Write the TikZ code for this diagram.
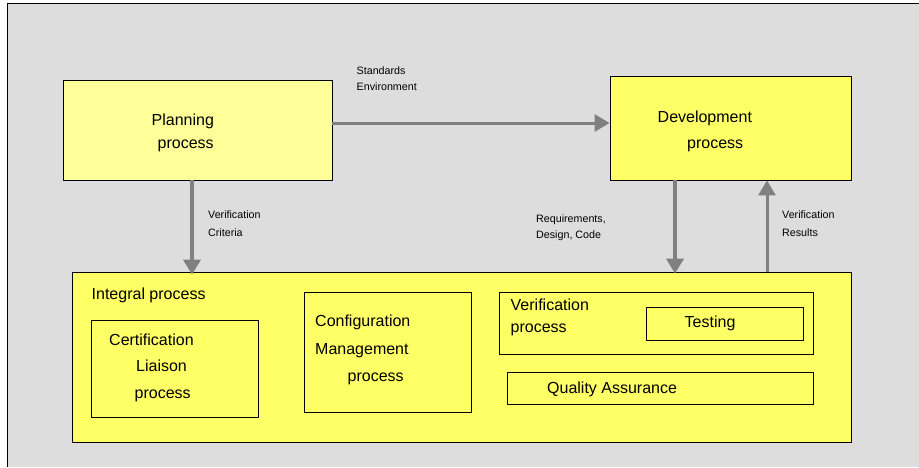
\documentclass[tikz,border=0pt]{standalone}
\usepackage{fontspec}
\setmainfont{Liberation Sans}
\usetikzlibrary{arrows.meta}
\definecolor{bg}{HTML}{DDDDDD}
\definecolor{paleyellow}{HTML}{FFFF99}
\definecolor{boxyellow}{HTML}{FFFF66}
\definecolor{flow}{HTML}{808080}
\begin{document}
\begin{tikzpicture}[x=1pt,y=-1pt,
  box/.style={draw=black,line width=0.8pt,fill=boxyellow,inner sep=0pt},
  big/.style={font=\fontsize{16}{18}\selectfont,anchor=base west,inner sep=0pt},
  small/.style={font=\fontsize{10.7}{12}\selectfont,anchor=base west,inner sep=0pt},
  flowarrow/.style={draw=flow,-{Triangle[length=15pt,width=17pt]}}]
\useasboundingbox (0,0) rectangle (919,467);
% grey panel with its top and left rule
\fill[bg] (7,3) rectangle (919,467);
\draw[line width=1pt] (919,3) -- (7,3) -- (7,467);

% main process boxes
\node[box,fill=paleyellow,minimum width=269pt,minimum height=100pt] (plan) at (197.5,130) {};
\node[box,minimum width=241pt,minimum height=104pt] (dev) at (730.5,128) {};
\node[box,minimum width=779pt,minimum height=170pt] (integ) at (461.5,357) {};
\node[box,minimum width=167pt,minimum height=97pt] (cert) at (174.5,368.5) {};
\node[box,minimum width=167pt,minimum height=120pt] (conf) at (387.5,352) {};
\node[box,minimum width=314pt,minimum height=62pt] (verif) at (656,323) {};
\node[box,minimum width=157pt,minimum height=33pt] (test) at (724.5,323.5) {};
\node[box,minimum width=306pt,minimum height=32pt] (qa) at (660,388) {};

% box captions
\node[big] (t1) at (151.5,125) {Planning};
\node[big] (t2) at (157.5,148) {process};
\node[big] (t3) at (657.5,122) {Development};
\node[big] (t4) at (687,148) {process};
\node[big] (t5) at (91.5,299) {Integral process};
\node[big] (t6) at (109,345) {Certification};
\node[big] (t7) at (136,371.5) {Liaison};
\node[big] (t8) at (134.5,398) {process};
\node[big] (t9) at (315,326.5) {Configuration};
\node[big] (t10) at (315,354) {Management};
\node[big] (t11) at (347.5,381.5) {process};
\node[big] (t12) at (510.5,310) {Verification};
\node[big] (t13) at (510.5,332.5) {process};
\node[big] (t14) at (684.5,327.5) {Testing};
\node[big] (t15) at (547,393) {Quality Assurance};

% flow labels
\node[small] (l1) at (356.5,74) {Standards};
\node[small] (l2) at (356.5,90) {Environment};
\node[small] (l3) at (208,218.5) {Verification};
\node[small] (l4) at (208,236) {Criteria};
\node[small] (l5) at (536,222) {Requirements,};
\node[small] (l6) at (536,238.5) {Design, Code};
\node[small] (l7) at (782,218.5) {Verification};
\node[small] (l8) at (782,236) {Results};

% data flows
\draw[flowarrow,line width=3pt] ([yshift=7pt]plan.east) -- ([yshift=7pt]plan.east -| dev.west);
\draw[flowarrow,line width=4pt] ([xshift=-5.5pt]plan.south) -- ([xshift=-5.5pt,yshift=-3pt]plan.south |- integ.north);
\draw[flowarrow,line width=4.5pt] ([xshift=-55.5pt]dev.south) -- ([xshift=-55.5pt,yshift=-2pt]dev.south |- integ.north);
\draw[flowarrow,line width=3pt] ([xshift=36.5pt]dev.south |- integ.north) -- ([xshift=36.5pt]dev.south);
\end{tikzpicture}
\end{document}
